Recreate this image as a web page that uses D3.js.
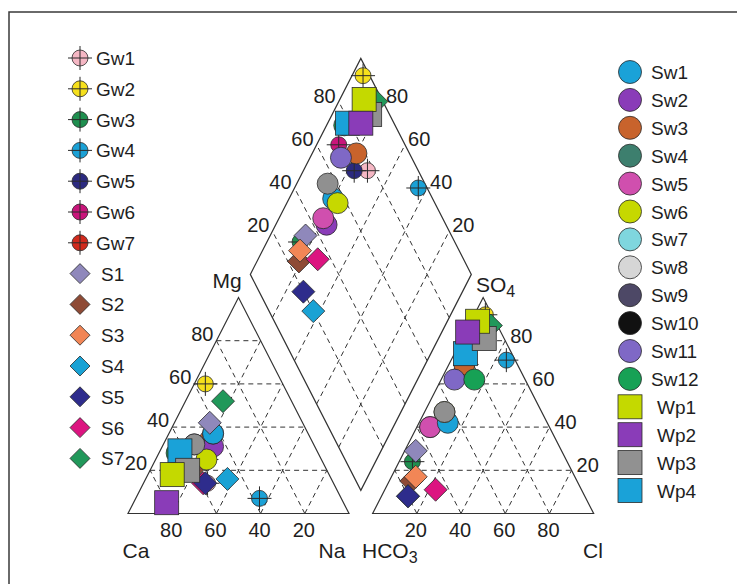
<!DOCTYPE html>
<html><head><meta charset="utf-8">
<script src="https://cdn.jsdelivr.net/npm/d3@7"></script>
<style>
body{margin:0;background:#fff}
svg{display:block}
text{font-family:"Liberation Sans",Arial,Helvetica,sans-serif;fill:#1e1e1e}
</style>
</head><body>
<svg id="c" width="737" height="584"></svg>
<script>
// ---------------- DATA ----------------
// samples in drawing order (later ones are drawn on top)
const plotSamples = ["Gw1","Gw2","Gw3","Gw4","Gw5","Gw6",
  "Sw3","Sw11","Sw2","Sw5","Sw1","Sw6","Sw8","Sw12",
  "S1","S2","S3","S4","S6","S5","S7",
  "Wp4","Wp3","Wp1","Wp2"];
// cations, % meq
const caPct   = [57,35,65,37,52,61, 46,54,46,43,43,52,54,64, 42,61,63,47,59,58,31, 62,63,71,80];
const mgPct   = [14,60,20, 7,25,29, 34,32,31,37,37,25,32,28, 42,20,20,16,14,14,52, 29,20,18, 5];
const naPct   = [29, 5,15,56,23,10, 20,14,23,20,20,23,14, 8, 16,19,17,37,27,28,17,  9,17,11,15];
// anions, % meq
const hco3Pct = [23, 3,70, 4,29,30, 24,32,54,54,45,44,44,23, 66,75,72,80,66,80, 3, 21, 9, 8,15];
const so4Pct  = [69,92,24,71,64,63, 69,62,40,40,42,47,47,62, 29,15,17, 8,11, 8,87, 74,81,89,84];
const clPct   = [ 8, 5, 6,25, 7, 7,  7, 6, 6, 6,13, 9, 9,15,  5,10,11,12,23,12,10,  5,10, 3, 1];

// legend
const legendLeft  = ["Gw1","Gw2","Gw3","Gw4","Gw5","Gw6","Gw7","S1","S2","S3","S4","S5","S6","S7"];
const legendLeftColors = ["#f5b7c4","#f6e01c","#1f8f4f","#1ba1d6","#2c2a80","#c9157b","#d12a1d",
  "#8f88bb","#8e4a35","#f28656","#1aa2d4","#2e2c8c","#dc1480","#21985a"];
const legendRight = ["Sw1","Sw2","Sw3","Sw4","Sw5","Sw6","Sw7","Sw8","Sw9","Sw10","Sw11","Sw12","Wp1","Wp2","Wp3","Wp4"];
const legendRightColors = ["#1aa2d8","#8a3cb8","#c8632c","#3d7f6e","#d04fae","#c6d800","#7fd6de","#d6d6d6",
  "#4d4866","#111111","#7f68c6","#17a155","#c4d900","#8a3cb8","#919191","#1aa2d8"];
const plotColorOverride = {"Sw8":"#909090"};

const ticks = [20,40,60,80];

// ---------------- LAYOUT ----------------
const svg = d3.select("#c");
const G = 0.107;                       // gap between triangles (in triangle widths)
const x = d3.scaleLinear().domain([0,1]).range([128,349]);
const y = d3.scaleLinear().domain([0,1]).range([513.5,297.5]);
const P = ([u,v]) => [x(u), y(v)];
const lineGen = d3.line();
const ink = "#333";

svg.append("rect").attr("x",9).attr("y",12).attr("width",800).attr("height",700)
  .attr("fill","none").attr("stroke","#3a3a3a").attr("stroke-width",1.5);

const colorOf = {};
legendLeft.forEach((n,i)=>colorOf[n]=legendLeftColors[i]);
legendRight.forEach((n,i)=>colorOf[n]=legendRightColors[i]);

// grid
const gridG = svg.append("g").attr("fill","none").attr("stroke",ink)
  .attr("stroke-width",1).attr("stroke-dasharray","5,4");
function seg(a,b){ gridG.append("path").attr("d", lineGen([P(a),P(b)])); }
ticks.forEach(t=>{
  const p=t/100;
  [0,1+G].forEach(off=>{
    seg([off+p/2,p],[off+1-p/2,p]);
    seg([off+p,0],[off+p+(1-p)/2,1-p]);
    seg([off+1-p,0],[off+(1-p)/2,1-p]);
  });
  // diamond
  let t0=1+G-p, t1=2+G-p;
  seg([p+t0/2,t0],[p+t1/2,t1]);
  t0=G+p; t1=1+G+p;
  seg([1+t0/2,t0],[t1/2,t1]);
});

// outlines
const outG = svg.append("g").attr("fill","none").attr("stroke",ink).attr("stroke-width",1.2);
const polys = [
  [[0,0],[1,0],[0.5,1]],
  [[1+G,0],[2+G,0],[1.5+G,1]],
  [[1+G/2,G],[1.5+G/2,1+G],[1+G/2,2+G],[0.5+G/2,1+G]]
];
polys.forEach(pl=>outG.append("path").attr("d", lineGen(pl.map(P))+"Z"));

// tick labels
const tl = svg.append("g").style("font-size","20px");
ticks.forEach(t=>{
  const p=t/100;
  let [px,py]=P([p/2,p]);
  tl.append("text").attr("x",px-3).attr("y",py).attr("text-anchor","end").text(t);
  [px,py]=P([1-p,0]);
  tl.append("text").attr("x",px-1).attr("y",536.5).attr("text-anchor","middle").text(t);
  [px,py]=P([1+G+p,0]);
  tl.append("text").attr("x",px-1).attr("y",536.5).attr("text-anchor","middle").text(t);
  [px,py]=P([1+G+1-p/2,p]);
  tl.append("text").attr("x",px+5).attr("y",py+2).text(t);
  let tt=1+G+p;
  [px,py]=P([tt/2,tt]);
  tl.append("text").attr("x",px-3).attr("y",py+1).attr("text-anchor","end").text(t);
  const na=1-p; tt=1+G+1-na;
  [px,py]=P([na+tt/2,tt]);
  tl.append("text").attr("x",px+3).attr("y",py+1).text(t);
});

// axis titles
const at = svg.append("g").style("font-size","21px");
at.append("text").attr("x",227).attr("y",288).attr("text-anchor","middle").text("Mg");
at.append("text").attr("x",136).attr("y",558).attr("text-anchor","middle").text("Ca");
at.append("text").attr("x",332).attr("y",558).attr("text-anchor","middle").text("Na");
const hc = at.append("text").attr("x",362).attr("y",558);
hc.append("tspan").text("HCO");
hc.append("tspan").attr("dy",5).style("font-size","16px").text("3");
at.append("text").attr("x",583).attr("y",558).text("Cl");
const so = at.append("text").attr("x",476).attr("y",292);
so.append("tspan").text("SO");
so.append("tspan").attr("dy",5).style("font-size","16px").text("4");

// ---------------- MARKERS ----------------
function kind(name){
  if(name.startsWith("Gw")) return "gw";
  if(name.startsWith("Sw")) return "sw";
  if(name.startsWith("Wp")) return "wp";
  return "s";
}
function marker(g, name, cx, cy, fill, legend){
  const k=kind(name);
  const st="#2b2b2b";
  if(k==="gw"){
    const r=8, a=12;
    g.append("circle").attr("cx",cx).attr("cy",cy).attr("r",r).attr("fill",fill).attr("stroke",st).attr("stroke-width",0.8);
    g.append("line").attr("x1",cx-a).attr("x2",cx+a).attr("y1",cy).attr("y2",cy).attr("stroke",st).attr("stroke-width",1);
    g.append("line").attr("x1",cx).attr("x2",cx).attr("y1",cy-a).attr("y2",cy+a).attr("stroke",st).attr("stroke-width",1);
  } else if(k==="sw"){
    const r = legend?11.5:10.5;
    g.append("circle").attr("cx",cx).attr("cy",cy).attr("r",r).attr("fill",fill).attr("stroke",st).attr("stroke-width",0.8);
  } else if(k==="wp"){
    const s = 24;
    g.append("rect").attr("x",cx-s/2).attr("y",cy-s/2).attr("width",s).attr("height",s).attr("fill",fill).attr("stroke",st).attr("stroke-width",0.8);
  } else {
    const s = legend?10:11.5;
    g.append("path").attr("d",`M${cx},${cy-s}L${cx+s},${cy}L${cx},${cy+s}L${cx-s},${cy}Z`)
      .attr("fill",fill).attr("stroke",st).attr("stroke-width",0.8);
  }
}

// projections
function cationUV(i){ return [(naPct[i]+mgPct[i]/2)/100, mgPct[i]/100]; }
function anionUV(i){ return [1+G+(clPct[i]+so4Pct[i]/2)/100, so4Pct[i]/100]; }
function diamondUV(i){
  const nf=naPct[i]/100, af=1-hco3Pct[i]/100;
  const t=1+G+af-nf;
  return [nf+t/2, t];
}

const ptsG = svg.append("g");
plotSamples.forEach((name,i)=>{
  const fill = plotColorOverride[name] || colorOf[name];
  [cationUV(i), anionUV(i), diamondUV(i)].forEach(uv=>{
    const [cx,cy]=P(uv);
    marker(ptsG, name, cx, cy, fill, false);
  });
});

// ---------------- LEGENDS ----------------
const lg = svg.append("g").style("font-size","19px");
legendLeft.forEach((name,i)=>{
  const cy = 58 + i*30.8;
  marker(lg, name, 80, cy, legendLeftColors[i], true);
  lg.append("text").attr("x", kind(name)==="gw"?96:101).attr("y",cy+7).text(name);
});
legendRight.forEach((name,i)=>{
  const cy = 72 + i*27.9;
  marker(lg, name, 630, cy, legendRightColors[i], true);
  lg.append("text").attr("x", kind(name)==="wp"?657:651).attr("y",cy+7).text(name);
});
</script>
</body></html>
